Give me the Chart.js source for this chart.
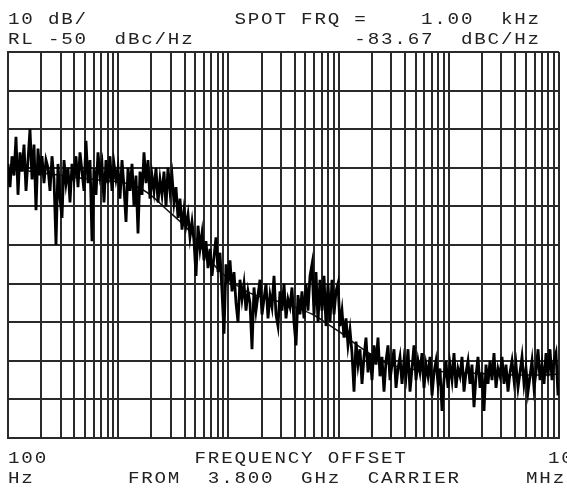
<!DOCTYPE html>
<html>
<head>
<meta charset="utf-8">
<script src="https://cdn.jsdelivr.net/npm/chart.js@4.4.1/dist/chart.umd.min.js"></script>
<style>
  html, body { margin: 0; padding: 0; background: #fff; }
  #wrap { width: 567px; height: 489px; }
</style>
</head>
<body>
<div id="wrap"><canvas id="pn" width="567" height="489"></canvas></div>
<script>
// Phase noise sweep, 100 Hz .. 10 MHz offset, 10 dB/div from -50 dBc/Hz
const REF_LEVEL = -50;
const DB_PER_DIV = 10;
const DIVISIONS = 10;
const SPOT_KHZ = 1.00;
const SPOT_DBC = -83.67;

// log grid: 1..9 per decade
const DECADES = [100, 1e3, 1e4, 1e5, 1e6];
const MANTISSAS = [1, 2, 3, 4, 5, 6, 7, 8, 9];
const LAST_FREQ = 1e7;

// raw trace, one array per decade (evenly spaced in log f)
const trace100Hz = [-79,-85,-77,-82,-72,-87,-76,-81,-74,-86,-78,-70,-83,-74,-91,-75,-82,-77,-84,-78,
  -80,-86,-77,-83,-100,-79,-88,-93,-78,-84,-80,-89,-79,-83,-77,-85,-76,-81,-86,-73,
  -84,-78,-99,-80,-87,-76,-82,-79,-89,-78,-84,-77,-86,-79,-83];
const trace1kHz = [-80,-88,-78,-85,-94,-80,-86,-79,-90,-82,-97,-81,-87,-76,-84,-78,-88,-82,-86,-80,
  -89,-83,-87,-81,-90,-80,-86,-82,-89,-85,-93,-88,-96,-91,-95,-92,-98,-94,-99,-108,
  -95,-101,-97,-104,-99,-106,-101,-108,-103,-98,-107,-102,-112,-123,-105];
const trace10kHz = [-110,-104,-112,-107,-115,-120,-109,-114,-110,-117,-112,-115,-127,-111,-117,-113,-109,-118,-114,-110,
  -119,-113,-116,-108,-118,-121,-112,-117,-110,-119,-114,-116,-111,-120,-126,-113,-118,-112,-119,-110,
  -117,-108,-105,-118,-107,-120,-109,-117,-108,-121,-110,-120,-109,-118,-112];
const trace100kHz = [-110,-121,-117,-124,-119,-126,-122,-128,-138,-125,-131,-127,-136,-129,-124,-133,-128,-135,-126,-131,
  -124,-134,-129,-138,-130,-126,-135,-131,-127,-137,-132,-129,-136,-130,-134,-127,-138,-132,-126,-135,
  -130,-133,-128,-137,-131,-134,-129,-139,-133,-130,-136,-132,-143,-135,-130,-137];
const trace1MHz = [-131,-135,-128,-137,-132,-134,-129,-138,-133,-130,-136,-131,-142,-134,-129,-137,-133,-143,-131,-136,
  -130,-135,-128,-137,-132,-134,-129,-136,-131,-138,-133,-130,-135,-131,-137,-133,-129,-136,-132,-138,
  -134,-130,-137,-133,-127,-135,-131,-136,-128,-134,-127,-135,-130,-128,-139];

// smoothed curve
const smoothFreq = [100, 170, 340, 680, 1000, 1400, 2000, 2750, 3600, 4800, 5600, 7300, 10000, 14600, 19400,
  29000, 45000, 60000, 78000, 103000, 136000, 180000, 240000, 300000, 415000, 830000, 1670000, 3350000, 6700000, 10000000];
const smoothDbc = [-80.3, -81.0, -82.2, -83.2, SPOT_DBC, -84.6, -87.2, -90.8, -93.8, -97.5, -100.5, -105.0, -108.8, -112.0, -113.4,
  -114.7, -116.6, -118.2, -120.3, -122.6, -125.2, -127.6, -129.8, -131.1, -132.0, -132.8, -133.2, -133.6, -133.7, -133.4];

// plotter text, fixed character cells
const header1 = '10 dB/           SPOT FRQ =    ' + SPOT_KHZ.toFixed(2) + '  kHz';
const header2 = 'RL ' + REF_LEVEL + '  dBc/Hz            ' + SPOT_DBC.toFixed(2) + '  dBC/Hz';
const footer1 = '100           FREQUENCY OFFSET';
const footer2 = 'Hz       FROM  3.800  GHz  CARRIER';
const endLabel1 = '10';
const endLabel2 = 'MHz';

const trace = [].concat(trace100Hz, trace1kHz, trace10kHz, trace100kHz, trace1MHz);
const gridFreqs = [];
DECADES.forEach(d => MANTISSAS.forEach(m => gridFreqs.push(d * m)));
gridFreqs.push(LAST_FREQ);

const INK = '#222';
const GRID = '#2a2a2a';
const STRETCH = 1.2;

const annotate = {
  id: 'annotate',
  afterDraw(chart) {
    const ctx = chart.ctx;
    ctx.save();
    ctx.setTransform(STRETCH, 0, 0, 1, 0, 0);
    ctx.fillStyle = INK;
    ctx.font = '16px "Liberation Mono"';
    ctx.letterSpacing = '1.5px';
    ctx.textBaseline = 'alphabetic';
    const x0 = 8 / STRETCH;
    ctx.fillText(header1, x0, 24);
    ctx.fillText(header2, x0, 44);
    ctx.fillText(footer1, x0, 463);
    ctx.fillText(footer2, x0, 483);
    // right-hand span label runs off the edge
    ctx.fillText(endLabel1, 548 / STRETCH, 463);
    ctx.fillText(endLabel2, 526 / STRETCH, 483);
    ctx.restore();
  }
};

new Chart(document.getElementById('pn'), {
  type: 'line',
  data: {
    datasets: [
      {
        data: trace.map((v, i) => ({ x: i, y: v })),
        xAxisID: 'xi',
        borderColor: '#000',
        borderWidth: 2.8,
        pointRadius: 0,
        tension: 0
      },
      {
        data: smoothFreq.map((f, i) => ({ x: f, y: smoothDbc[i] })),
        xAxisID: 'x',
        borderColor: '#111',
        borderWidth: 1.5,
        pointRadius: 0,
        cubicInterpolationMode: 'monotone'
      }
    ]
  },
  options: {
    responsive: false,
    animation: false,
    layout: { padding: { left: 8, right: 8, top: 52, bottom: 51 } },
    plugins: { legend: { display: false }, tooltip: { enabled: false } },
    scales: {
      x: {
        type: 'logarithmic',
        min: 100,
        max: LAST_FREQ,
        afterBuildTicks: s => { s.ticks = gridFreqs.map(v => ({ value: v })); },
        ticks: { display: false },
        grid: { color: GRID, lineWidth: 2, drawTicks: false },
        border: { color: GRID, width: 2 }
      },
      xi: {
        type: 'linear',
        display: false,
        min: 0,
        max: trace.length - 0.5
      },
      y: {
        min: REF_LEVEL - DIVISIONS * DB_PER_DIV,
        max: REF_LEVEL,
        ticks: { display: false, stepSize: DB_PER_DIV },
        grid: { color: GRID, lineWidth: 2, drawTicks: false },
        border: { color: GRID, width: 2 }
      }
    }
  },
  plugins: [annotate]
});
</script>
</body>
</html>
